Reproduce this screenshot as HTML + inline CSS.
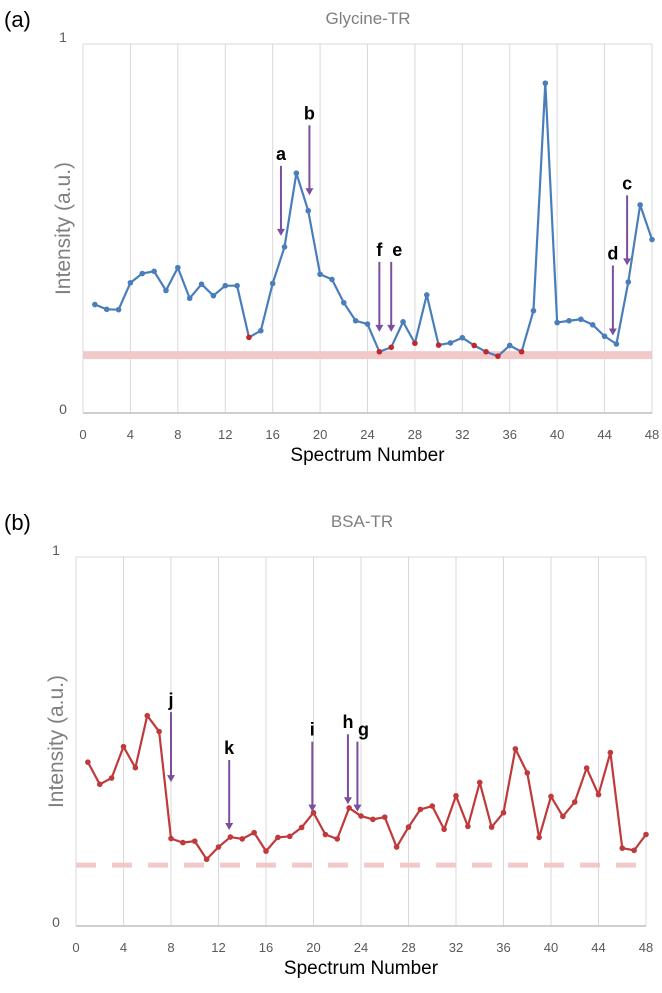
<!DOCTYPE html>
<html><head><meta charset="utf-8">
<style>
body{margin:0;background:#fff;width:662px;height:988px;overflow:hidden;font-family:"Liberation Sans",sans-serif}
svg text{font-family:"Liberation Sans",sans-serif}
</style></head>
<body>
<svg id="svg" width="662" height="988" viewBox="0 0 662 988" xmlns="http://www.w3.org/2000/svg">
<text x="4" y="27" font-size="22" fill="#000">(a)</text>
<text x="368" y="24" font-size="17" fill="#7f7f7f" text-anchor="middle">Glycine-TR</text>
<text x="4" y="530" font-size="22" fill="#000">(b)</text>
<text x="362" y="527" font-size="17" fill="#7f7f7f" text-anchor="middle">BSA-TR</text>
<g id="ga"></g>
<g id="gb"></g>
</svg>
<script>
const xTicks = [0,4,8,12,16,20,24,28,32,36,40,44,48];
const yTicks = [0,1];
const glycine = [.294,.281,.280,.353,.378,.384,.332,.394,.311,.349,.318,.345,.345,.205,.223,.351,.450,.650,.548,.376,.362,.299,.250,.241,.166,.178,.247,.189,.320,.184,.190,.204,.183,.166,.154,.183,.166,.277,.894,.245,.250,.254,.239,.208,.187,.355,.564,.470];
const glycineRed = [14,25,26,28,30,33,34,35,37];
const glycineThreshold = 0.157;
const bsa = [.444,.384,.401,.486,.429,.570,.527,.237,.226,.230,.181,.214,.241,.236,.253,.203,.240,.243,.267,.307,.248,.236,.320,.298,.289,.295,.214,.268,.316,.325,.262,.353,.270,.389,.268,.307,.480,.415,.240,.351,.297,.336,.428,.356,.470,.211,.205,.248];
const bsaThreshold = 0.165;
const arrowsALabels = ['a','b','f','e','d','c'];
const arrowsAX = [16.7,19.1,25.0,26.0,44.7,45.9];
const arrowsAY = [0.48,0.59,0.22,0.22,0.21,0.40];
const arrowsBLabels = ['j','k','i','h','g'];
const arrowsBX = [8.0,12.9,19.9,22.9,23.7];
const arrowsBY = [0.39,0.26,0.31,0.33,0.31];

const NS='http://www.w3.org/2000/svg';
function mk(parent,tag,attrs){const e=document.createElementNS(NS,tag);for(const k in attrs)e.setAttribute(k,attrs[k]);parent.appendChild(e);return e;}

function drawChart(g,cfg){
  const L=cfg.left,R=cfg.right,T=cfg.top,B=cfg.bottom;
  const sx=v=>L+(R-L)*v/48, sy=v=>B-(B-T)*v;
  xTicks.forEach(t=>{
    const l=mk(g,'line',{x1:sx(t),x2:sx(t),y1:T,y2:B,stroke:'#d9d9d9','stroke-width':1});
    
    
    const tx=mk(g,'text',{x:sx(t),y:B+26,'font-size':13,fill:'#595959','text-anchor':'middle'});
    tx.textContent=t;
    
    
  });
  const top=mk(g,'line',{x1:L,x2:R,y1:T,y2:T,stroke:'#d9d9d9'});
  
  
  const bot=mk(g,'line',{x1:L,x2:R,y1:B,y2:B,stroke:'#bfbfbf','stroke-width':1.5});
  
  
  yTicks.forEach(t=>{
    const tx=mk(g,'text',{x:L-20,y:sy(t)+(t===1?-2:1),'font-size':14,fill:'#595959','text-anchor':'middle'});
    tx.textContent=t;
    
    
  });
  const xt=mk(g,'text',{x:(L+R)/2,y:B+48,'font-size':19,fill:'#000','text-anchor':'middle'});
  xt.textContent='Spectrum Number';
  
  
  const yt=mk(g,'text',{x:0,y:0,'font-size':21,fill:'#7f7f7f','text-anchor':'middle',transform:`translate(${L-13},${(T+B)/2}) rotate(-90)`});
  yt.textContent='Intensity (a.u.)';
  
  
  const th=mk(g,'line',{x1:L,x2:R,y1:sy(cfg.threshold),y2:sy(cfg.threshold),stroke:'#f2c9c9','stroke-width':cfg.dashed?5:8,'stroke-dasharray':cfg.dashed?'20 16':'none'});
  
  
  const pts=cfg.data.map((v,i)=>sx(i+1)+','+sy(v)).join(' ');
  const pl=mk(g,'polyline',{points:pts,fill:'none',stroke:cfg.color,'stroke-width':2.2,'stroke-linejoin':'round'});
  
  
  cfg.data.forEach((v,i)=>{
    const red=cfg.red&&cfg.red.includes(i+1);
    const c=mk(g,'circle',{cx:sx(i+1),cy:sy(v),r:2.8,fill:red?'#c0282d':cfg.color});
    
    
  });
  cfg.aLabels.forEach((lab,i)=>{
    const x=sx(cfg.aX[i]), yEnd=sy(cfg.aY[i]), yStart=yEnd-70;
    const l=mk(g,'line',{x1:x,x2:x,y1:yStart,y2:yEnd-6,stroke:'#7a4f9e','stroke-width':2});
    
    
    const h=mk(g,'polygon',{points:`${x-4},${yEnd-7} ${x+4},${yEnd-7} ${x},${yEnd}`,fill:'#7a4f9e'});
    
    
    const dx=(lab==='e'||lab==='g')?6:0;
    const t=mk(g,'text',{x:x+dx,y:yStart-6,'font-size':18,'font-weight':'bold',fill:'#000','text-anchor':'middle'});
    t.textContent=lab;
    
    
  });
}
drawChart(document.getElementById('ga'),{left:83,right:652,top:44,bottom:413,data:glycine,red:glycineRed,threshold:glycineThreshold,color:'#4a7ebb',dashed:false,aLabels:arrowsALabels,aX:arrowsAX,aY:arrowsAY});
drawChart(document.getElementById('gb'),{left:76,right:646,top:557,bottom:926,data:bsa,red:null,threshold:bsaThreshold,color:'#c0393b',dashed:true,aLabels:arrowsBLabels,aX:arrowsBX,aY:arrowsBY});
</script>
</body></html>
